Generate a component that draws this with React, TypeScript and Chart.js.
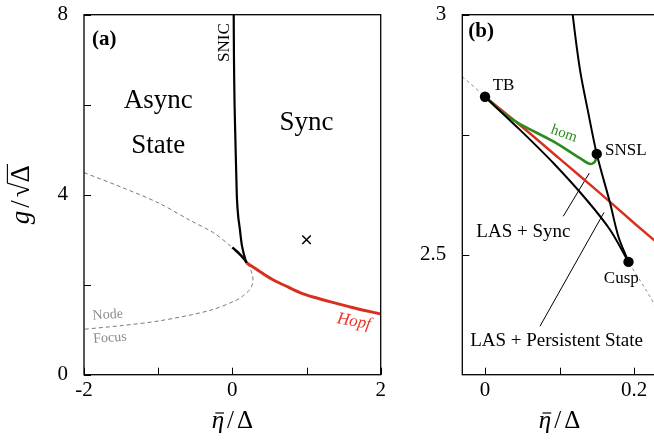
import React, { useEffect, useRef } from "react";
import { Chart, registerables } from "chart.js";
Chart.register(...registerables);

// ---------------- data (x = η̄/Δ, y = g/√Δ) ----------------
// SNIC branch (shared by both panels)
const snicX = [0.018, 0.022, 0.03, 0.04, 0.052, 0.063, 0.08, 0.1, 0.1177, 0.1275, 0.1387, 0.15, 0.1678, 0.179, 0.1926];
const snicY = [8.1, 7.0, 6.0, 5.3, 4.5, 3.88, 3.5, 3.25, 3.0, 2.885, 2.795, 2.71, 2.608, 2.538, 2.485];
// saddle-node branch TB -> Cusp
const snX = [0, 0.047, 0.0917, 0.1365, 0.1678, 0.1926];
const snY = [2.829, 2.76, 2.691, 2.614, 2.552, 2.485];
// node / focus boundary (dashed)
const nodeFocusX = [-2, -1.5, -1, -0.57, -0.25, -0.03, 0, 0.047, 0.0917, 0.1365, 0.1678, 0.1926, 0.226, 0.25, 0.272, 0.278, 0.265, 0.23, 0.15, 0.06, -0.3, -0.97, -1.5, -2];
const nodeFocusY = [4.49, 4.17, 3.82, 3.43, 3.15, 2.87, 2.829, 2.76, 2.691, 2.614, 2.552, 2.485, 2.4, 2.32, 2.2, 2.1, 1.98, 1.88, 1.76, 1.66, 1.43, 1.2, 1.09, 1.01];
// Hopf (panel a)
const hopfAX = [0.1926, 0.3, 0.4, 0.56, 0.75, 0.92, 1.1, 1.3, 1.6, 2.0];
const hopfAY = [2.485, 2.37, 2.26, 2.1, 1.95, 1.82, 1.72, 1.63, 1.5, 1.35];
// Hopf (panel b)
const hopfBX = [0, 0.05, 0.1, 0.15, 0.2, 0.25];
const hopfBY = [2.829, 2.766, 2.7, 2.634, 2.566, 2.5];
// homoclinic (panel b)
const homX = [0, 0.0246, 0.047, 0.0917, 0.1275, 0.141, 0.1477, 0.15];
const homY = [2.829, 2.795, 2.772, 2.736, 2.701, 2.689, 2.694, 2.71];
// special points: TB, SNSL, Cusp
const specialX = [0, 0.15, 0.1926];
const specialY = [2.829, 2.71, 2.485];
// marker in panel a
const crossX = [1];
const crossY = [3];
// annotation pointer lines (panel b)
const ptrSyncX = [0.105, 0.14];
const ptrSyncY = [2.58, 2.67];
const ptrPersX = [0.0738, 0.1597];
const ptrPersY = [2.351, 2.588];

// ticks
const aXTicks = [-2, -1, 0, 1, 2];
const aXLabels = [-2, 0, 2];
const aYTicks = [0, 2, 4, 6, 8];
const aYLabels = [0, 4, 8];
const bXTicks = [0, 0.1, 0.2];
const bXLabels = [0, 0.2];
const bYTicks = [2.5, 2.75, 3];
const bYLabels = [2.5, 3];

const FONT = "'Liberation Serif', 'DejaVu Serif', serif";
const RED = "#d7301f";
const GREEN = "#2a8c1c";

const pts = (xs: number[], ys: number[]) => xs.map((x, i) => ({ x, y: ys[i] }));

function line(xs: number[], ys: number[], color: string, width: number, extra: any = {}) {
  return {
    data: pts(xs, ys),
    showLine: true,
    borderColor: color,
    backgroundColor: color,
    borderWidth: width,
    pointRadius: 0,
    pointHoverRadius: 0,
    tension: 0.3,
    fill: false,
    ...extra,
  };
}

type Note = { text: string; x: number; y: number; size: number; color?: string; rot?: number; align?: CanvasTextAlign; style?: string };

const notesA: Note[] = [
  { text: "(a)", x: -1.892, y: 7.44, size: 21, style: "bold", align: "left" },
  { text: "Async", x: -1.0, y: 6.08, size: 27 },
  { text: "State", x: -1.0, y: 5.08, size: 27 },
  { text: "Sync", x: 1.0, y: 5.6, size: 27 },
  { text: "SNIC", x: -0.104, y: 7.38, size: 17, rot: -90 },
  { text: "Node", x: -1.68, y: 1.33, size: 14, color: "#8c8c8c", rot: -4 },
  { text: "Focus", x: -1.65, y: 0.815, size: 14, color: "#8c8c8c", rot: -4 },
  { text: "Hopf", x: 1.64, y: 1.18, size: 17, color: "#e8342a", rot: 10, style: "italic" },
];

const notesB: Note[] = [
  { text: "(b)", x: -0.0224, y: 2.965, size: 21, style: "bold", align: "left" },
  { text: "TB", x: 0.0248, y: 2.852, size: 17 },
  { text: "SNSL", x: 0.189, y: 2.718, size: 17 },
  { text: "hom", x: 0.106, y: 2.752, size: 15, color: GREEN, rot: 20 },
  { text: "LAS + Sync", x: 0.0515, y: 2.548, size: 19 },
  { text: "Cusp", x: 0.183, y: 2.45, size: 17 },
  { text: "LAS + Persistent State", x: 0.096, y: 2.32, size: 19 },
];

type Panel = {
  datasets: any[];
  xMin: number; xMax: number; yMin: number; yMax: number;
  xTicks: number[]; xLabels: number[]; yTicks: number[]; yLabels: number[];
  yAxisW: number; xAxisH: number; top: number; padRight: number;
  notes: Note[]; xTitleAt: number; yTitle: boolean;
};

const panelA: Panel = {
  datasets: [
    { data: pts(crossX, crossY), pointStyle: "crossRot", pointRadius: 6, borderColor: "#000", borderWidth: 1.5, showLine: false },
    line(snicX, snicY, "#000", 2.2),
    line(snX, snY, "#000", 2.6),
    line(hopfAX, hopfAY, RED, 3),
    line(nodeFocusX, nodeFocusY, "#7a7a7a", 1, { borderDash: [4, 3] }),
  ],
  xMin: -2, xMax: 2, yMin: 0, yMax: 8,
  xTicks: aXTicks, xLabels: aXLabels, yTicks: aYTicks, yLabels: aYLabels,
  yAxisW: 84, xAxisH: 65.3, top: 14.7, padRight: 19.3,
  notes: notesA, xTitleAt: 0, yTitle: true,
};

const panelB: Panel = {
  datasets: [
    { data: pts(specialX, specialY), pointRadius: 5.2, backgroundColor: "#000", borderColor: "#000", borderWidth: 0, showLine: false },
    line(snicX, snicY, "#000", 2),
    line(snX, snY, "#000", 2),
    line(homX, homY, GREEN, 2.6),
    line(hopfBX, hopfBY, RED, 2.4),
    line(ptrSyncX, ptrSyncY, "#000", 1, { tension: 0 }),
    line(ptrPersX, ptrPersY, "#000", 1, { tension: 0 }),
    line(nodeFocusX, nodeFocusY, "#8a8a8a", 1, { borderDash: [3, 3] }),
  ],
  xMin: -0.0305, xMax: 0.25, yMin: 2.25, yMax: 3,
  xTicks: bXTicks, xLabels: bXLabels, yTicks: bYTicks, yLabels: bYLabels,
  yAxisW: 62.3, xAxisH: 65.3, top: 14.7, padRight: 28.75,
  notes: notesB, xTitleAt: 0.1, yTitle: false,
};

type Part = { t: string; font: string; gap?: number; bar?: boolean; over?: boolean };

function drawParts(ctx: CanvasRenderingContext2D, parts: Part[], size: number) {
  let total = 0;
  const widths = parts.map((p) => {
    ctx.font = p.font;
    const w = ctx.measureText(p.t).width + 2 * (p.gap ?? 0);
    total += w;
    return w;
  });
  let x = -total / 2;
  ctx.textAlign = "left";
  ctx.textBaseline = "alphabetic";
  parts.forEach((p, i) => {
    ctx.font = p.font;
    const g = p.gap ?? 0;
    const w = widths[i] - 2 * g;
    ctx.fillText(p.t, x + g, 0);
    if (p.bar) {
      ctx.beginPath();
      ctx.lineWidth = 1.2;
      ctx.moveTo(x + g + 0.3 * w, -0.6 * size);
      ctx.lineTo(x + g + 1.0 * w, -0.6 * size);
      ctx.stroke();
    }
    if (p.over) {
      ctx.beginPath();
      ctx.lineWidth = 1.1;
      ctx.moveTo(x + g - 1, -0.8 * size);
      ctx.lineTo(x + g + w + 1, -0.8 * size);
      ctx.stroke();
    }
    x += widths[i];
  });
}

function decor(p: Panel) {
  return {
    id: "decor",
    afterDatasetsDraw(chart: any) {
      const { ctx, chartArea: a } = chart;
      const xs = chart.scales.x;
      const ys = chart.scales.y;
      ctx.save();
      ctx.strokeStyle = "#000";
      ctx.fillStyle = "#000";
      ctx.lineWidth = 1;
      ctx.beginPath();
      for (const v of p.xTicks) {
        const px = Math.round(xs.getPixelForValue(v)) + 0.5;
        ctx.moveTo(px, a.bottom);
        ctx.lineTo(px, a.bottom - 7);
      }
      for (const v of p.yTicks) {
        const py = Math.round(ys.getPixelForValue(v)) + 0.5;
        ctx.moveTo(a.left, py);
        ctx.lineTo(a.left + 7, py);
      }
      ctx.stroke();
      ctx.lineWidth = 1.3;
      ctx.strokeRect(a.left, a.top, a.right - a.left, a.bottom - a.top);

      for (const n of p.notes) {
        ctx.save();
        ctx.translate(xs.getPixelForValue(n.x), ys.getPixelForValue(n.y));
        if (n.rot) ctx.rotate((n.rot * Math.PI) / 180);
        ctx.font = `${n.style ?? ""} ${n.size}px ${FONT}`;
        ctx.fillStyle = n.color ?? "#000";
        ctx.textAlign = n.align ?? "center";
        ctx.textBaseline = "middle";
        ctx.fillText(n.text, 0, 0);
        ctx.restore();
      }

      const S = 25;
      const it = `italic ${S}px ${FONT}`;
      const up = `${S}px ${FONT}`;
      ctx.save();
      ctx.translate(xs.getPixelForValue(p.xTitleAt), 428);
      drawParts(ctx, [{ t: "η", font: it, bar: true }, { t: "/", font: up, gap: 3 }, { t: "Δ", font: up }], S);
      ctx.restore();
      if (p.yTitle) {
        const T = 27;
        const it2 = `italic ${T}px ${FONT}`;
        const up2 = `${T}px ${FONT}`;
        ctx.save();
        ctx.translate(29, (a.top + a.bottom) / 2);
        ctx.rotate(-Math.PI / 2);
        drawParts(ctx, [{ t: "g", font: it2 }, { t: "/", font: up2, gap: 3 }, { t: "√", font: up2 }, { t: "Δ", font: up2, over: true }], T);
        ctx.restore();
      }
      ctx.restore();
    },
  };
}

const near = (list: number[], v: number) => list.some((l) => Math.abs(l - v) < 1e-9);

function buildConfig(p: Panel): any {
  return {
    type: "scatter",
    data: { datasets: p.datasets },
    options: {
      responsive: false,
      animation: false,
      devicePixelRatio: 1,
      events: [],
      layout: { autoPadding: false, padding: { left: 0, top: p.top, right: p.padRight, bottom: 0 } },
      plugins: { legend: { display: false }, tooltip: { enabled: false } },
      scales: {
        x: {
          type: "linear",
          min: p.xMin,
          max: p.xMax,
          grid: { display: false, drawTicks: false },
          border: { display: false },
          ticks: {
            autoSkip: false,
            maxRotation: 0,
            padding: 3,
            color: "#000",
            font: { family: FONT, size: 21 },
            callback: (v: number) => (near(p.xLabels, v) ? String(v) : ""),
          },
          afterBuildTicks: (s: any) => {
            s.ticks = p.xTicks.map((v) => ({ value: v }));
          },
          afterFit: (s: any) => {
            s.height = p.xAxisH;
            s.paddingLeft = 0;
            s.paddingRight = 0;
            s.paddingTop = 0;
            s.paddingBottom = 0;
          },
        },
        y: {
          type: "linear",
          min: p.yMin,
          max: p.yMax,
          grid: { display: false, drawTicks: false },
          border: { display: false },
          ticks: {
            autoSkip: false,
            padding: 16,
            color: "#000",
            font: { family: FONT, size: 21 },
            callback: (v: number) => (near(p.yLabels, v) ? String(v) : ""),
          },
          afterBuildTicks: (s: any) => {
            s.ticks = p.yTicks.map((v) => ({ value: v }));
          },
          afterFit: (s: any) => {
            s.width = p.yAxisW;
            s.paddingLeft = 0;
            s.paddingRight = 0;
            s.paddingTop = 0;
            s.paddingBottom = 0;
          },
        },
      },
    },
    plugins: [decor(p)],
  };
}

export default function App() {
  const refA = useRef<HTMLCanvasElement>(null);
  const refB = useRef<HTMLCanvasElement>(null);
  useEffect(() => {
    const a = new Chart(refA.current as HTMLCanvasElement, buildConfig(panelA));
    const b = new Chart(refB.current as HTMLCanvasElement, buildConfig(panelB));
    return () => {
      a.destroy();
      b.destroy();
    };
  }, []);
  return (
    <div style={{ position: "fixed", left: 0, top: 0, width: 654, height: 440, overflow: "hidden", background: "#fff" }}>
      <canvas ref={refA} width={400} height={440} style={{ position: "absolute", left: 0, top: 0 }} />
      <canvas ref={refB} width={300} height={440} style={{ position: "absolute", left: 400, top: 0 }} />
    </div>
  );
}
